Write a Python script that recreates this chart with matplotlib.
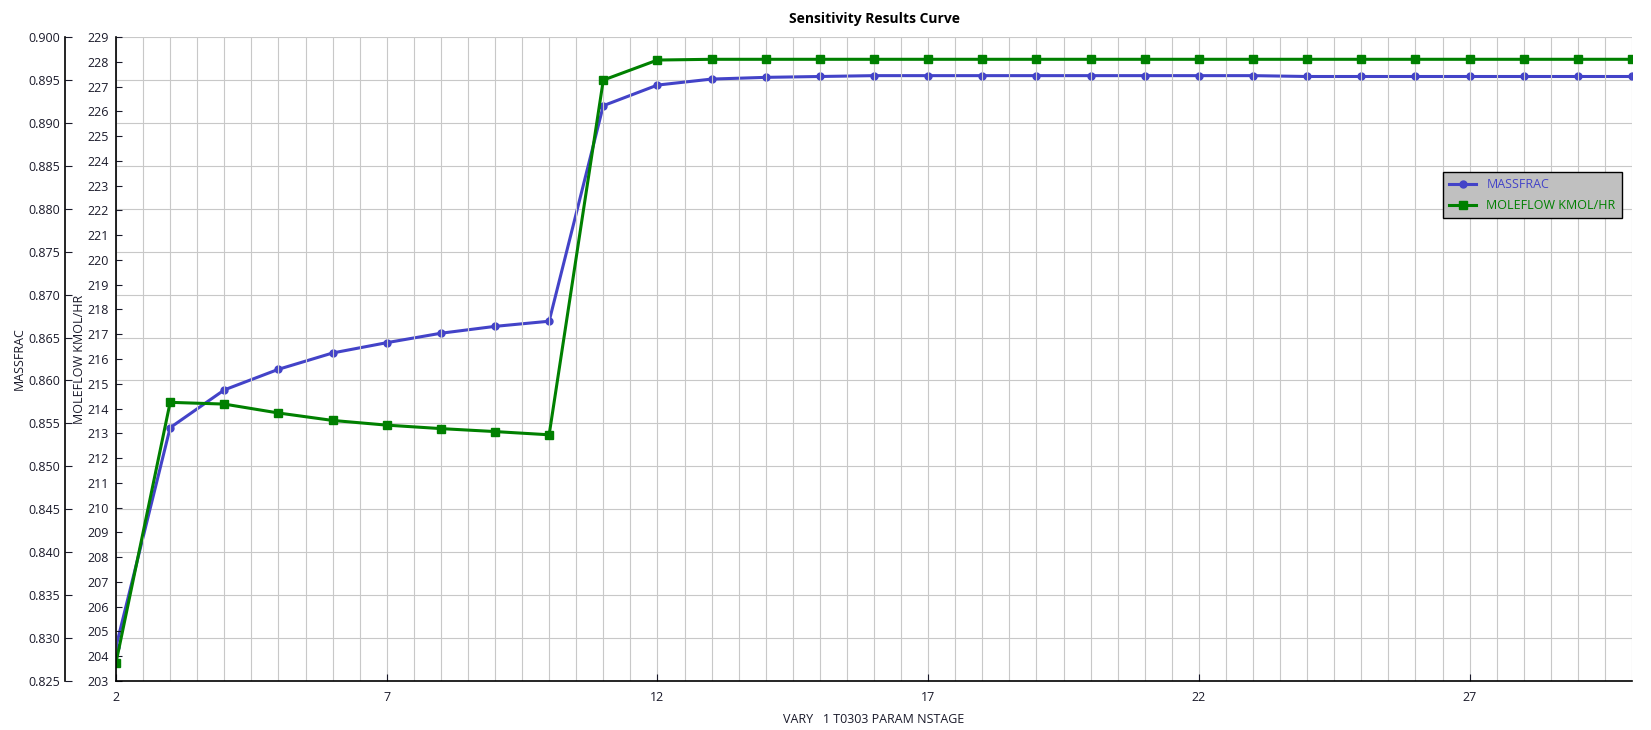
import numpy as np
import matplotlib
matplotlib.use('Agg')
import matplotlib.pyplot as plt
from matplotlib.ticker import MultipleLocator

plt.rcParams['font.family'] = ['Open Sans', 'DejaVu Sans']

nstage = list(range(2, 31))
massfrac = [0.8290, 0.8545, 0.8589, 0.8613, 0.8632, 0.8644, 0.8655, 0.8663, 0.8669,
            0.8920, 0.8944, 0.8951, 0.8953, 0.8954, 0.8955, 0.8955, 0.8955, 0.8955,
            0.8955, 0.8955, 0.8955, 0.8955, 0.8954, 0.8954, 0.8954, 0.8954, 0.8954,
            0.8954, 0.8954]
moleflow = [203.74, 214.25, 214.18, 213.82, 213.52, 213.33, 213.19, 213.07, 212.94,
            227.26, 228.07, 228.10, 228.10, 228.10, 228.10, 228.10, 228.10, 228.10,
            228.10, 228.10, 228.10, 228.10, 228.10, 228.10, 228.10, 228.10, 228.10,
            228.10, 228.10]

blue = '#4343c8'
green = '#008000'
gridc = '#c8c8c8'
txt = '#1a1a2a'

fig = plt.figure(figsize=(16.51, 7.30), dpi=100)
ax = fig.add_axes([116/1651, 49/730, 1516/1651, 644/730])   # moleflow (inner axis)
ax2 = ax.twinx()                                             # massfrac (outer axis)

# put the massfrac axis on the left, pushed outward (points: 51.5 px at 100 dpi)
ax2.yaxis.tick_left()
ax2.yaxis.set_label_position('left')
ax2.spines['left'].set_position(('outward', 37))
for a in (ax, ax2):
    a.spines['top'].set_visible(False)
    a.spines['right'].set_visible(False)
ax2.spines['bottom'].set_visible(False)

# green on top
ax.set_zorder(ax2.get_zorder() + 1)
ax.patch.set_visible(False)

l2, = ax2.plot(nstage, massfrac, color=blue, lw=2.2, marker='o', ms=5,
               label='MASSFRAC')
l1, = ax.plot(nstage, moleflow, color=green, lw=2.2, marker='s', ms=5.5,
              label='MOLEFLOW KMOL/HR')

ax.set_xlim(2, 30)
ax.set_ylim(203, 229)
ax2.set_ylim(0.825, 0.900)

ax.set_xticks([2, 7, 12, 17, 22, 27])
ax.xaxis.set_minor_locator(MultipleLocator(0.5))
ax.yaxis.set_major_locator(MultipleLocator(1))
ax2.yaxis.set_major_locator(MultipleLocator(0.005))
ax2.yaxis.set_major_formatter(matplotlib.ticker.FormatStrFormatter('%.3f'))

# grid: vertical every 0.5, horizontal at massfrac ticks
ax2.set_xlim(2, 30)
ax2.grid(True, axis='y', color=gridc, lw=0.8)
ax.grid(True, axis='x', which='both', color=gridc, lw=0.8)
ax.tick_params(axis='x', which='minor', length=0)
ax.tick_params(axis='x', which='major', direction='in', length=5, pad=7,
               labelsize=9, colors=txt)
ax.tick_params(axis='y', direction='in', length=4, pad=5, labelsize=9, colors=txt)
ax2.tick_params(axis='y', direction='in', length=5, pad=3, labelsize=9, colors=txt)
for a in (ax, ax2):
    a.spines['left'].set_color('black')
    a.spines['left'].set_linewidth(1.2)
ax.spines['bottom'].set_color('black')
ax.spines['bottom'].set_linewidth(1.2)

ax.set_ylabel('MOLEFLOW KMOL/HR', fontsize=9, color=txt)
ax.yaxis.set_label_coords(-30/1516, 0.5)
ax2.set_ylabel('MASSFRAC', fontsize=9, color=txt)
ax2.yaxis.set_label_coords(-90/1516, 0.5)
ax.set_xlabel('VARY   1 T0303 PARAM NSTAGE', fontsize=9, color=txt)
ax.xaxis.set_label_coords(0.5, -32/644)

ax.set_title('Sensitivity Results Curve', fontsize=10, fontweight='bold', pad=10)

leg = ax.legend(handles=[l2, l1], loc='upper right',
                bbox_to_anchor=(1512/1516, (681-166)/644),
                fancybox=False, framealpha=1, facecolor='#c0c0c0',
                edgecolor='black', fontsize=9, labelcolor='linecolor',
                handlelength=2.2, borderpad=0.5, labelspacing=0.6)
leg.get_frame().set_linewidth(1.0)

fig.savefig('out.png', dpi=100)
